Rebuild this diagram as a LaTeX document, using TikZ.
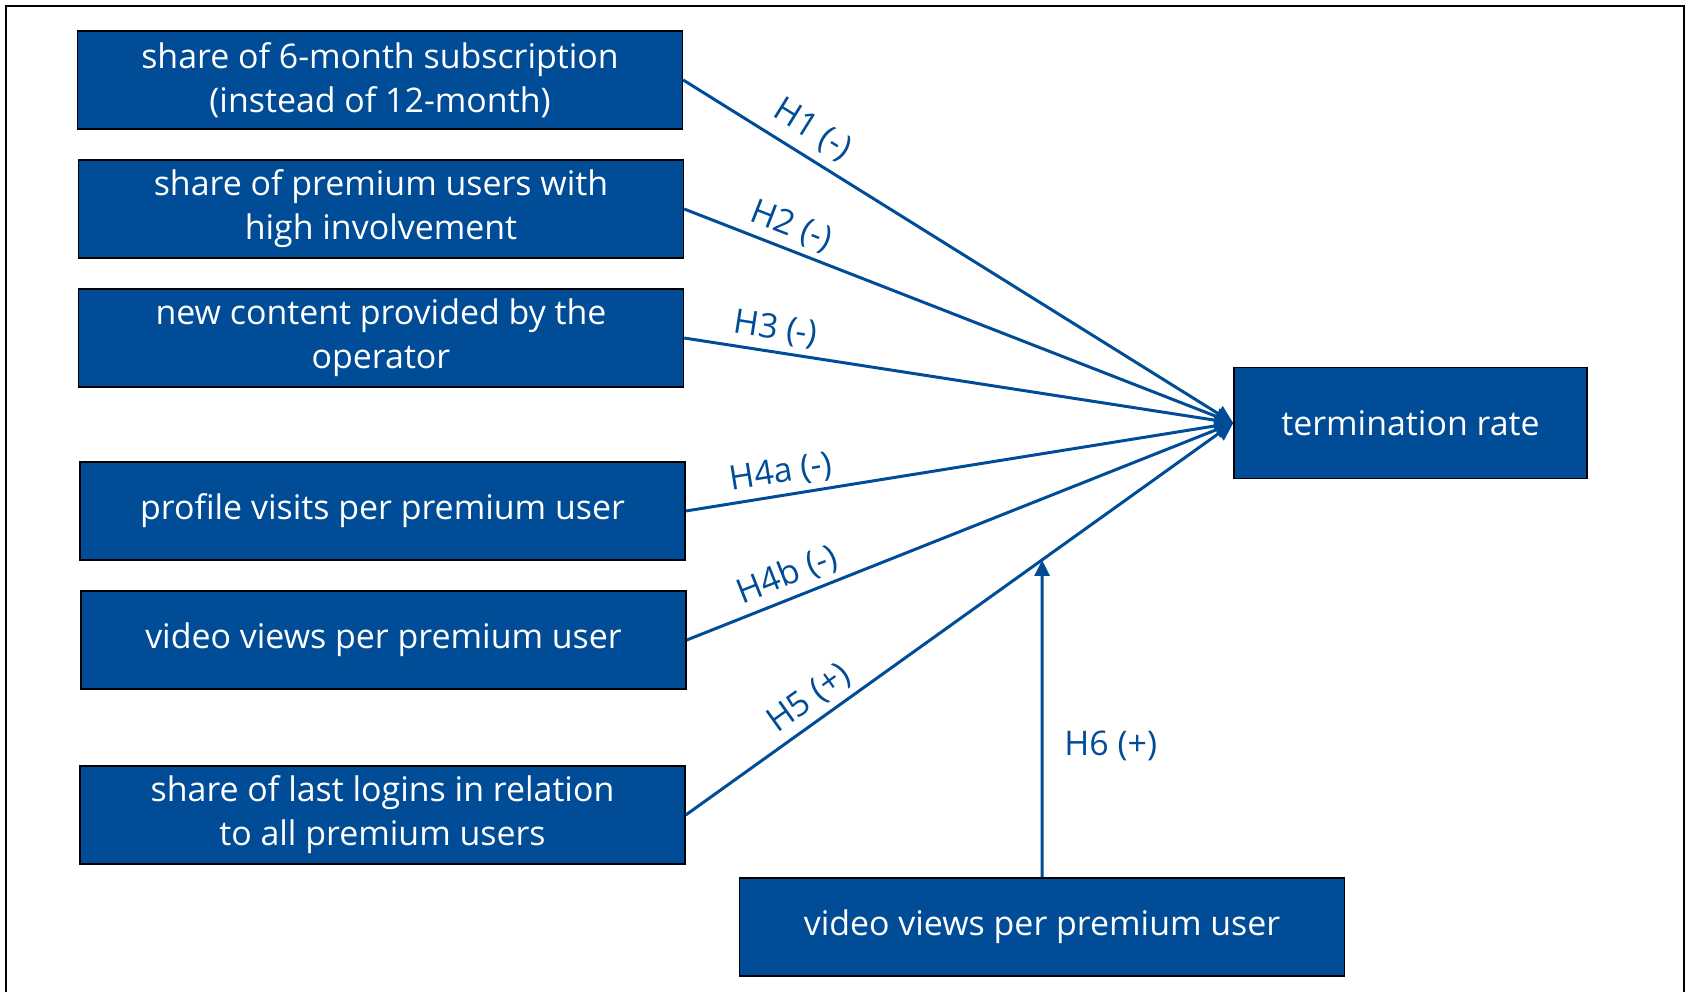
\documentclass[tikz,border=0pt]{standalone}
\usepackage{fontspec}
\setmainfont{Open Sans}
\usetikzlibrary{arrows.meta}
\definecolor{hsblue}{RGB}{0,76,151}
\tikzset{
  factor/.style={draw=black, line width=0.9pt, fill=hsblue, text=white,
    minimum width=12.1cm, minimum height=1.96cm, inner sep=0pt,
    align=center, font=\fontsize{19.3}{25}\selectfont},
  effect/.style={draw=hsblue, line width=1.7pt,
    -{Triangle[length=0.36cm,width=0.34cm]}},
  hypo/.style={text=hsblue, font=\fontsize{19.3}{23}\selectfont}
}
\begin{document}
\begin{tikzpicture}[x=0.02cm,y=-0.02cm]
  \useasboundingbox (0,0) rectangle (1689,992);
  % Rahmen
  \draw[line width=1.1pt] (6,992) -- (6,6) -- (1684,6) -- (1684,992);
  % Einflussfaktoren
  \node[factor] (f1) at (380,80) {share of 6-month subscription\\(instead of 12-month)};
  \node[factor] (f2) at (381,209) {share of premium users with\\high involvement};
  \node[factor] (f3) at (381,338) {new content provided by the\\operator};
  \node[factor] (f4) at (382.5,511) {profile visits per premium user};
  \node[factor] (f5) at (383.5,640) {video views per premium user};
  \node[factor] (f6) at (382.5,815) {share of last logins in relation\\to all premium users};
  \node[factor] (f7) at (1042,927) {video views per premium user};
  \node[factor, minimum width=7.06cm, minimum height=2.22cm] (term) at (1410.5,423) {termination rate};
  % Hypothesen
  \draw[effect] (f1.east) -- node[hypo, pos=0.21, sloped, above=2pt] {H1 (-)} (term.west);
  \draw[effect] (f2.east) -- node[hypo, pos=0.18, sloped, above] {H2 (-)} (term.west);
  \draw[effect] (f3.east) -- node[hypo, pos=0.16, sloped, above] {H3 (-)} (term.west);
  \draw[effect] (f4.east) -- node[hypo, pos=0.18, sloped, above] {H4a (-)} (term.west);
  \draw[effect] (f5.east) -- node[hypo, pos=0.20, sloped, above] {H4b (-)} (term.west);
  \draw[effect] (f6.east) -- node[hypo, pos=0.25, sloped, above] {H5 (+)} (term.west);
  % Moderator
  \draw[effect, -{Triangle[length=0.32cm,width=0.3cm]}] (f7.north)
    -- node[hypo, pos=0.415, right=0.3cm] {H6 (+)}
    (intersection of f6.east--term.west and f7.north--f7.south);
\end{tikzpicture}
\end{document}
